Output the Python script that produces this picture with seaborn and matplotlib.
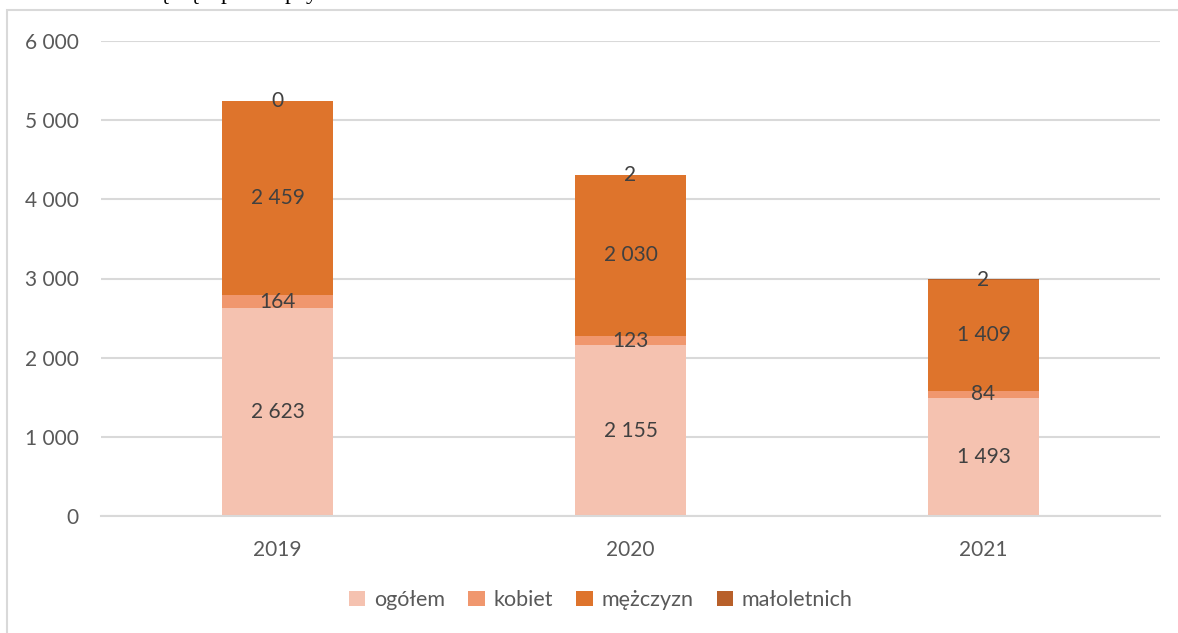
import numpy as np
import pandas as pd
import seaborn as sns
import matplotlib.pyplot as plt
from matplotlib.patches import Patch, Rectangle

# data
years = ["2019", "2020", "2021"]
ogolem = [2623, 2155, 1493]
kobiet = [164, 123, 84]
mezczyzn = [2459, 2030, 1409]
maloletnich = [0, 2, 2]

series_names = ["ogółem", "kobiet", "mężczyzn", "małoletnich"]
series_colors = ["#F5C2B0", "#F0976E", "#DE742C", "#B8602A"]
yticks = [0, 1000, 2000, 3000, 4000, 5000, 6000]

W, H = 1178, 633


def fmt(v):
    return f"{v:,}".replace(",", " ")


def make_plot():
    sns.set_theme(style="white")
    plt.rcParams['font.family'] = ['Lato', 'DejaVu Sans']

    df = pd.DataFrame({"rok": years, "ogółem": ogolem, "kobiet": kobiet,
                       "mężczyzn": mezczyzn, "małoletnich": maloletnich})
    cum = df[series_names].cumsum(axis=1)

    fig = plt.figure(figsize=(W / 100, H / 100), dpi=100)
    ax = fig.add_axes([101 / W, 1 - 516 / H, (1160 - 101) / W, (516 - 41) / H])

    # stacked bars: draw cumulative totals, tallest first
    for name, col in reversed(list(zip(series_names, series_colors))):
        sns.barplot(x=df["rok"], y=cum[name], color=col, width=0.314,
                    saturation=1, linewidth=0, ax=ax)

    # value labels in the middle of each segment
    for i in range(len(years)):
        bottom = 0
        for name in series_names:
            v = df[name][i]
            ax.text(i, bottom + v / 2, fmt(v), ha="center", va="center",
                    fontsize=15, color="#404040")
            bottom += v

    ax.set_ylim(0, 6000)
    ax.set_xlim(-0.5, 2.5)
    ax.set_yticks(yticks)
    ax.set_yticklabels([fmt(t) for t in yticks])
    ax.set_xlabel("")
    ax.set_ylabel("")
    ax.tick_params(axis="both", length=0, labelsize=15, labelcolor="#595959")
    ax.tick_params(axis="y", pad=16)
    ax.tick_params(axis="x", pad=17)
    ax.yaxis.grid(True, color="#D9D9D9", linewidth=1.5)
    ax.set_axisbelow(True)
    for s in ["top", "right", "left"]:
        ax.spines[s].set_visible(False)
    ax.spines["bottom"].set_color("#D9D9D9")
    ax.spines["bottom"].set_linewidth(1.5)

    handles = [Patch(facecolor=c, edgecolor="none") for c in series_colors]
    fig.legend(handles, series_names, loc="center", ncol=4,
               bbox_to_anchor=(0.51, 1 - 600 / H), frameon=False,
               fontsize=15.5, labelcolor="#595959", handlelength=0.75,
               handleheight=0.75, handletextpad=0.4, columnspacing=1.1)

    # chart frame (cut off at right and bottom)
    fig.patches.append(Rectangle((7 / W, -0.1), 1.2, 1 - 10 / H + 0.1,
                                 transform=fig.transFigure, fill=False,
                                 edgecolor="#D9D9D9", linewidth=1.5))

    # cut-off line of text above the chart (only descenders show)
    for ch, x in zip(["ą", "ą", "p", "p", "y"], [157, 187, 221, 285, 306]):
        fig.text(x / W, 1 + 1 / H, ch, family="Liberation Serif",
                 fontsize=17, va="baseline", ha="left", color="black")

    fig.savefig("out.png", dpi=100)
    plt.close(fig)


if __name__ == "__main__":
    make_plot()
